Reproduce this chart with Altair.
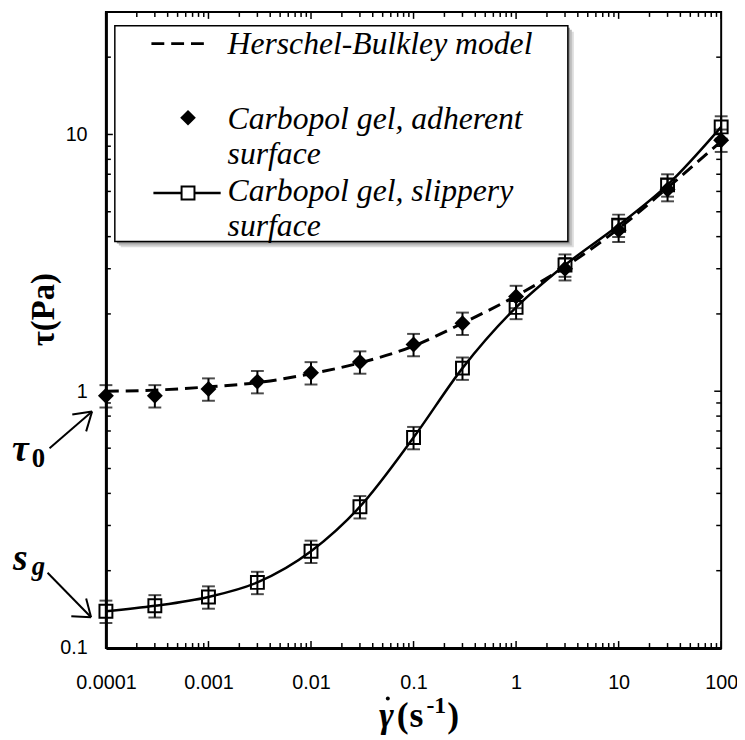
import altair as alt
import pandas as pd

# ---------------- data ----------------
shear_rate = [0.0001, 0.0003, 0.001, 0.003, 0.01, 0.03, 0.1, 0.3, 1, 3, 10, 30, 100]
tau_adherent = [0.96, 0.96, 1.02, 1.09, 1.18, 1.30, 1.52, 1.84, 2.34, 3.00, 4.24, 6.10, 9.50]
tau_slippery = [0.139, 0.146, 0.158, 0.180, 0.238, 0.355, 0.66, 1.23, 2.12, 3.10, 4.43, 6.36, 10.7]
err_adherent = [0.10, 0.10, 0.10, 0.10, 0.10, 0.10, 0.10, 0.10, 0.10, 0.10, 0.10, 0.10, 0.10]
err_slippery = [0.10, 0.10, 0.10, 0.10, 0.10, 0.10, 0.10, 0.10, 0.10, 0.10, 0.10, 0.10, 0.10]
model_rate = [0.0001, 0.0003, 0.001, 0.003, 0.01, 0.03, 0.1, 0.3, 1, 3, 10, 30, 100]
model_tau = [1.00, 1.01, 1.04, 1.08, 1.17, 1.29, 1.50, 1.84, 2.35, 3.05, 4.30, 6.20, 9.40]

x_major = [0.0001, 0.001, 0.01, 0.1, 1, 10, 100]
y_major = [0.1, 1, 10]
x_minor = [m * d for d in x_major[:-1] for m in range(2, 10)]
y_minor = [m * d for d in [0.1, 1] for m in range(2, 10)] + [20]

legend_labels = ["Herschel-Bulkley model", "Carbopol gel, adherent", "surface",
                 "Carbopol gel, slippery", "surface"]

# ---------------- layout helpers ----------------
W, H = 622, 643
SERIF = "Liberation Serif, Times New Roman, serif"
SANS = "Liberation Sans, Arial, sans-serif"


def px(x):  # page x -> chart x
    return x - 107


def py(y):  # page y -> chart y
    return y - 8


xs = alt.Scale(type="log", domain=[0.0001, 100], nice=False)
ys = alt.Scale(type="log", domain=[0.1, 30], nice=False)
one = alt.Data(values=[{"a": 1}])

axis_common = dict(ticks=False, grid=False, domain=True, domainWidth=3, domainColor="black",
                   labelFont=SANS, labelFontSize=20, labelFontWeight="normal",
                   labelColor="black", title=None,
                   labelOverlap=False, labelFlush=False,
                   labelExpr="format(datum.value, '~g')")
x_axis = alt.Axis(values=x_major, labelPadding=25, **axis_common)
y_axis = alt.Axis(values=y_major, labelPadding=19, **axis_common)


def frame(rate, tau, err):
    df = pd.DataFrame({"rate": rate, "tau": tau, "err": err})
    df["lo"] = df["tau"] * (1 - df["err"])
    df["hi"] = df["tau"] * (1 + df["err"])
    return df


adh = frame(shear_rate, tau_adherent, err_adherent)
slp = frame(shear_rate, tau_slippery, err_slippery)
model = pd.DataFrame({"rate": model_rate, "tau": model_tau})


def X(f="rate"):
    return alt.X(f"{f}:Q", scale=xs, axis=x_axis)


def Y(f="tau"):
    return alt.Y(f"{f}:Q", scale=ys, axis=y_axis)


layers = []

# model (dashed) and slippery (solid) curves
layers.append(alt.Chart(model).mark_line(color="black", strokeWidth=3, strokeDash=[13, 7],
                                         interpolate="monotone").encode(x=X(), y=Y()))
layers.append(alt.Chart(slp).mark_line(color="black", strokeWidth=2.5,
                                       interpolate="monotone").encode(x=X(), y=Y()))

# error bars
for df in (adh, slp):
    layers.append(alt.Chart(df).mark_rule(color="black", strokeWidth=2).encode(
        x=X(), y=Y("lo"), y2="hi:Q"))
    for f in ("lo", "hi"):
        layers.append(alt.Chart(df).mark_tick(color="black", orient="horizontal", size=13,
                                              thickness=2).encode(x=X(), y=Y(f)))

# markers
layers.append(alt.Chart(adh).mark_point(shape="diamond", filled=True, size=260, color="black",
                                        opacity=1).encode(x=X(), y=Y()))
layers.append(alt.Chart(slp).mark_point(shape="square", filled=False, size=170, color="black",
                                        strokeWidth=2, opacity=1).encode(x=X(), y=Y()))

# inward ticks on all four sides
for vals, ln in ((x_major, 7), (x_minor, 5)):
    d = pd.DataFrame({"v": vals})
    layers.append(alt.Chart(d).mark_rule(color="black", strokeWidth=1.5).encode(
        x=X("v"), y=alt.value(H), y2=alt.value(H - ln)))
    layers.append(alt.Chart(d).mark_rule(color="black", strokeWidth=1.5).encode(
        x=X("v"), y=alt.value(0), y2=alt.value(ln)))
for vals, ln in ((y_major, 7), (y_minor, 5)):
    d = pd.DataFrame({"v": vals})
    layers.append(alt.Chart(d).mark_rule(color="black", strokeWidth=1.5).encode(
        y=Y("v"), x=alt.value(0), x2=alt.value(ln)))
    layers.append(alt.Chart(d).mark_rule(color="black", strokeWidth=1.5).encode(
        y=Y("v"), x=alt.value(W), x2=alt.value(W - ln)))

# ---------------- legend box ----------------
L, R, T, B = px(116), px(574), py(22), py(240)
for off, col in ((6, "#dcdcdc"), (4, "#bdbdbd"), (2, "#959595")):
    layers.append(alt.Chart(one).mark_rect(fill=col).encode(
        x=alt.value(L + off), x2=alt.value(R + off), y=alt.value(T + off), y2=alt.value(B + off)))
layers.append(alt.Chart(one).mark_rect(fill="white", stroke="black", strokeWidth=1.5).encode(
    x=alt.value(L), x2=alt.value(R), y=alt.value(T), y2=alt.value(B)))

layers.append(alt.Chart(one).mark_rule(color="black", strokeWidth=3, strokeDash=[13, 7]).encode(
    x=alt.value(px(153)), x2=alt.value(px(213)), y=alt.value(py(40))))
layers.append(alt.Chart(one).mark_point(shape="diamond", filled=True, size=250, color="black",
                                        opacity=1).encode(x=alt.value(px(190)), y=alt.value(py(115))))
layers.append(alt.Chart(one).mark_rule(color="black", strokeWidth=2.5).encode(
    x=alt.value(px(155)), x2=alt.value(px(223)), y=alt.value(py(191))))
layers.append(alt.Chart(one).mark_point(shape="square", filled=True, fill="white", size=170,
                                        stroke="black", strokeWidth=2, opacity=1).encode(
    x=alt.value(px(190)), y=alt.value(py(191))))

for lab, base in zip(legend_labels, [51, 126, 162, 199, 235]):
    layers.append(alt.Chart(one).mark_text(text=lab, align="left", baseline="alphabetic",
                                           font=SERIF, fontSize=32, fontStyle="italic",
                                           color="black").encode(
        x=alt.value(px(230)), y=alt.value(py(base))))


# ---------------- annotations ----------------
def txt(s, x, y, size, italic=False, angle=0, align="left"):
    kw = dict(text=s, align=align, baseline="alphabetic", font=SERIF, fontSize=size,
              fontWeight="bold", color="black")
    if italic:
        kw["fontStyle"] = "italic"
    if angle:
        kw["angle"] = angle
    return alt.Chart(one).mark_text(**kw).encode(x=alt.value(px(x)), y=alt.value(py(y)))


def seg(x1, y1, x2, y2, w=2):
    return alt.Chart(one).mark_rule(color="black", strokeWidth=w).encode(
        x=alt.value(px(x1)), y=alt.value(py(y1)), x2=alt.value(px(x2)), y2=alt.value(py(y2)))


# tau_0 and its arrow
layers.append(txt("τ", 12, 462, 38, italic=True))
layers.append(txt("0", 32, 468, 27))
layers += [seg(50, 449, 93, 412), seg(93, 412, 73, 415), seg(93, 412, 87, 432)]
# s_g and its arrow
layers.append(txt("s", 13, 572, 38, italic=True))
layers.append(txt("g", 32, 577, 27, italic=True))
layers += [seg(48, 575, 92, 620), seg(92, 620, 87, 601), seg(92, 620, 72, 619)]

# axis titles
layers.append(txt("τ(Pa)", 54, 309, 33, angle=270, align="center"))
layers.append(txt("γ", 383, 731, 36, italic=True))
layers.append(alt.Chart(one).mark_point(shape="circle", filled=True, size=16, color="black",
                                        opacity=1).encode(x=alt.value(px(392)), y=alt.value(py(702))))
layers.append(txt("(", 401, 731, 36))
layers.append(txt("s", 414, 731, 36))
layers.append(txt("-1", 431, 717, 24))
layers.append(txt(")", 452, 731, 36))

chart = alt.layer(*layers).properties(
    width=W, height=H,
    autosize=alt.AutoSizeParams(type="none"),
    padding={"left": 99, "top": 0, "right": 16, "bottom": 86},
).configure_view(stroke="black", strokeWidth=2)

chart.save("out.html", embed_options={"renderer": "svg", "actions": False})
